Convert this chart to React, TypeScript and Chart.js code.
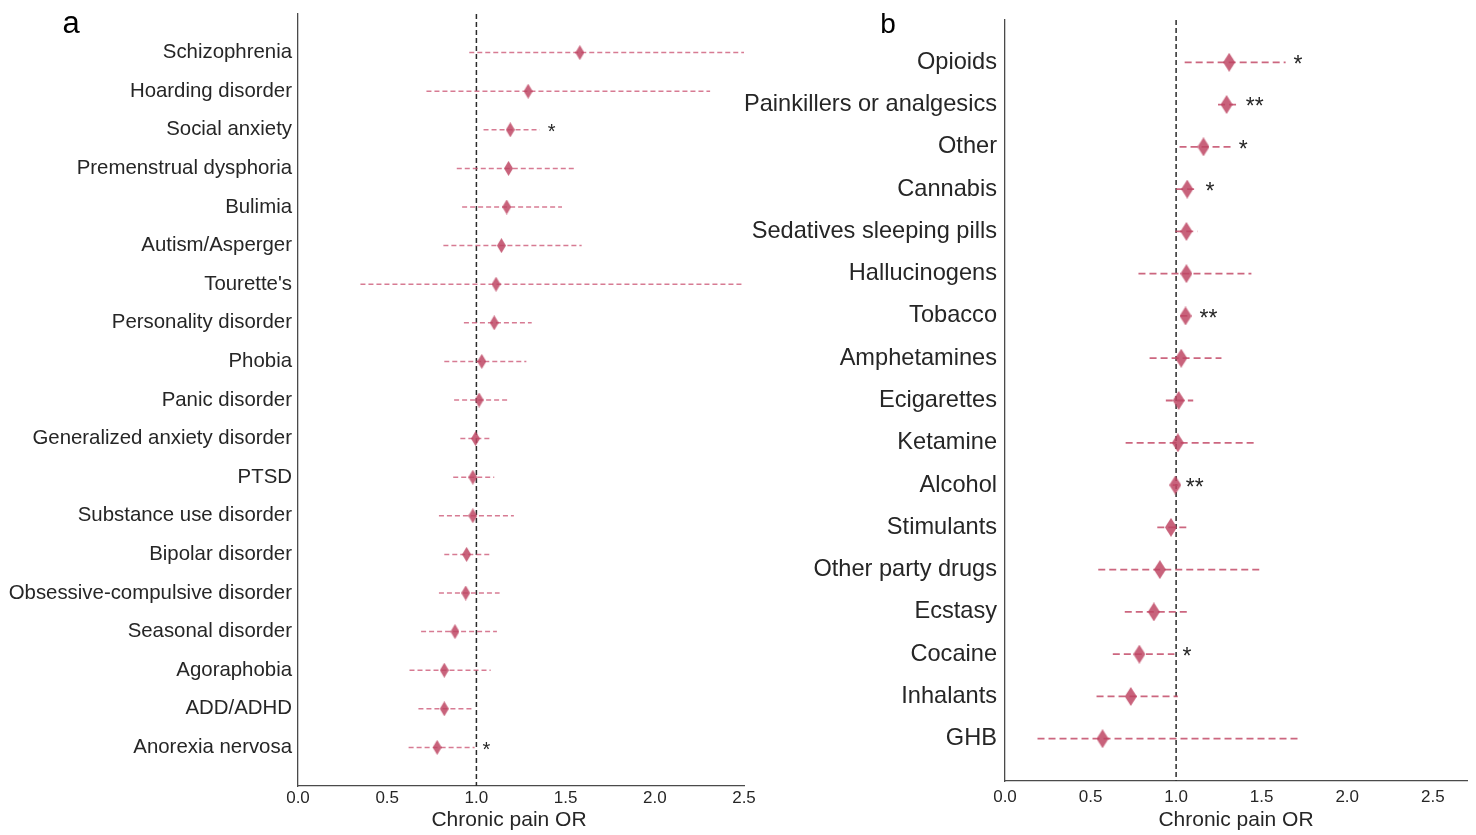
import React, { useEffect, useRef } from "react";
import { Chart, registerables } from "chart.js";
Chart.register(...registerables);

const FONT = "'Liberation Sans', Arial, Helvetica, sans-serif";
const TEXT = "#262626";
const AXIS = "#4a4a4a";

// ---------- Panel a: psychiatric disorders ----------
const disordersA = [
  "Schizophrenia",
  "Hoarding disorder",
  "Social anxiety",
  "Premenstrual dysphoria",
  "Bulimia",
  "Autism/Asperger",
  "Tourette's",
  "Personality disorder",
  "Phobia",
  "Panic disorder",
  "Generalized anxiety disorder",
  "PTSD",
  "Substance use disorder",
  "Bipolar disorder",
  "Obsessive-compulsive disorder",
  "Seasonal disorder",
  "Agoraphobia",
  "ADD/ADHD",
  "Anorexia nervosa",
];
const orA = [1.58, 1.29, 1.19, 1.18, 1.17, 1.14, 1.11, 1.1, 1.03, 1.015, 0.995, 0.98, 0.98, 0.945, 0.94, 0.88, 0.82, 0.82, 0.78];
const ciLowA = [0.96, 0.72, 1.04, 0.89, 0.92, 0.815, 0.35, 0.93, 0.82, 0.875, 0.91, 0.87, 0.79, 0.82, 0.79, 0.69, 0.625, 0.675, 0.62];
const ciHighA = [2.5, 2.31, 1.355, 1.55, 1.48, 1.59, 2.5, 1.31, 1.28, 1.18, 1.085, 1.1, 1.21, 1.08, 1.13, 1.115, 1.08, 0.985, 0.99];
const starsA = ["", "", "*", "", "", "", "", "", "", "", "", "", "", "", "", "", "", "", "*"];

// ---------- Panel b: substances ----------
const substancesB = [
  "Opioids",
  "Painkillers or analgesics",
  "Other",
  "Cannabis",
  "Sedatives sleeping pills",
  "Hallucinogens",
  "Tobacco",
  "Amphetamines",
  "Ecigarettes",
  "Ketamine",
  "Alcohol",
  "Stimulants",
  "Other party drugs",
  "Ecstasy",
  "Cocaine",
  "Inhalants",
  "GHB",
];
const orB = [1.31, 1.295, 1.16, 1.065, 1.06, 1.06, 1.055, 1.03, 1.015, 1.01, 0.995, 0.97, 0.905, 0.87, 0.785, 0.735, 0.57];
const ciLowB = [1.05, 1.245, 1.02, 1.0, 0.995, 0.78, 1.025, 0.845, 0.94, 0.705, 0.98, 0.89, 0.545, 0.7, 0.63, 0.535, 0.19];
const ciHighB = [1.64, 1.36, 1.32, 1.125, 1.125, 1.44, 1.09, 1.265, 1.1, 1.455, 1.01, 1.06, 1.495, 1.07, 0.99, 1.01, 1.71];
const starsB = ["*", "**", "*", "*", "", "", "**", "", "", "", "**", "", "", "", "*", "", ""];

const xTicks = [0, 0.5, 1, 1.5, 2, 2.5];
const refLine = 1;
const axisTitle = "Chronic pain OR";

type PanelProps = {
  labels: string[];
  or: number[];
  lo: number[];
  hi: number[];
  stars: string[];
  letter: string;
  left: number;
  width: number;
  xMax: number;
  yAxisWidth: number;
  xAxisHeight: number;
  padTop: number;
  padRight: number;
  labelSize: number;
  labelPad: number;
  tickSize: number;
  tickPad: number;
  diamondW: number;
  diamondH: number;
  barWidth: number;
  barDash: number[];
  barColor: string;
  starSize: number;
  titleX: number;
  letterX: number;
  letterSize: number;
};

function makeDiamond(w: number, h: number, color: string) {
  const c = document.createElement("canvas");
  c.width = w;
  c.height = h;
  const ctx = c.getContext("2d")!;
  ctx.fillStyle = color;
  ctx.beginPath();
  ctx.moveTo(w / 2, 0);
  ctx.lineTo(w, h / 2);
  ctx.lineTo(w / 2, h);
  ctx.lineTo(0, h / 2);
  ctx.closePath();
  ctx.fill();
  return c;
}

function Panel(p: PanelProps) {
  const ref = useRef<HTMLCanvasElement>(null);
  useEffect(() => {
    if (!ref.current) return;
    const n = p.labels.length;
    const diamond = makeDiamond(p.diamondW, p.diamondH, "rgba(190, 70, 100, 0.85)");
    const datasets: any[] = [];
    datasets.push({
      data: [
        { x: refLine, y: -1 },
        { x: refLine, y: n },
      ],
      showLine: true,
      borderColor: "#2b2b2b",
      borderWidth: 1.5,
      borderDash: [5, 3],
      pointRadius: 0,
      order: 3,
    });
    p.labels.forEach((_, i) => {
      datasets.push({
        data: [
          { x: p.lo[i], y: i },
          { x: p.hi[i], y: i },
        ],
        showLine: true,
        borderColor: p.barColor,
        borderWidth: p.barWidth,
        borderDash: p.barDash,
        pointRadius: 0,
        order: 2,
      });
    });
    datasets.push({
      data: p.or.map((v, i) => ({ x: v, y: i })),
      showLine: false,
      pointStyle: diamond,
      pointRadius: 8,
      order: 1,
    });

    const annot = {
      id: "annot" + p.letter,
      afterDatasetsDraw(chart: any) {
        const { ctx, scales } = chart;
        const xs = scales.x;
        const ys = scales.y;
        ctx.save();
        ctx.fillStyle = TEXT;
        ctx.font = `${p.starSize}px ${FONT}`;
        ctx.textAlign = "left";
        ctx.textBaseline = "alphabetic";
        p.stars.forEach((s, i) => {
          if (!s) return;
          ctx.fillText(s, xs.getPixelForValue(p.hi[i]) + 8, ys.getPixelForValue(i) + p.starSize * 0.43);
        });
        ctx.font = `21px ${FONT}`;
        ctx.textAlign = "center";
        ctx.textBaseline = "middle";
        ctx.fillText(axisTitle, p.titleX, 820);
        ctx.font = `${p.letterSize}px ${FONT}`;
        ctx.textBaseline = "alphabetic";
        ctx.fillStyle = "#000";
        ctx.fillText(p.letter, p.letterX, 33);
        ctx.restore();
      },
    };

    const chart = new Chart(ref.current, {
      type: "scatter",
      data: { datasets },
      options: {
        animation: false,
        responsive: false,
        events: [],
        layout: { padding: { top: p.padTop, right: p.padRight, left: 0, bottom: 0 } },
        plugins: { legend: { display: false }, tooltip: { enabled: false } },
        scales: {
          x: {
            type: "linear",
            min: 0,
            max: p.xMax,
            afterBuildTicks: (s: any) => {
              s.ticks = xTicks.map((v) => ({ value: v }));
            },
            afterFit: (s: any) => {
              s.height = p.xAxisHeight;
              s.paddingLeft = 0;
              s.paddingRight = 0;
            },
            ticks: {
              autoSkip: false,
              maxRotation: 0,
              padding: p.tickPad,
              color: TEXT,
              font: { size: p.tickSize, family: FONT },
              callback: (v: any) => Number(v).toFixed(1),
            },
            grid: { display: false, drawTicks: false },
            border: { display: true, color: AXIS, width: 1.3 },
          },
          y: {
            type: "linear",
            min: -1,
            max: n,
            reverse: true,
            afterBuildTicks: (s: any) => {
              s.ticks = p.labels.map((_, i) => ({ value: i }));
            },
            afterFit: (s: any) => {
              s.width = p.yAxisWidth;
              s.paddingTop = 0;
              s.paddingBottom = 0;
            },
            ticks: {
              autoSkip: false,
              padding: p.labelPad,
              color: TEXT,
              font: { size: p.labelSize, family: FONT },
              callback: (v: any) => p.labels[Math.round(Number(v))],
            },
            grid: { display: false, drawTicks: false },
            border: { display: true, color: AXIS, width: 1.3 },
          },
        },
      },
      plugins: [annot],
    } as any);
    return () => chart.destroy();
  }, []);
  return (
    <canvas
      ref={ref}
      width={p.width}
      height={835}
      style={{ position: "absolute", left: p.left, top: 0, width: p.width, height: 835 }}
    />
  );
}

export default function App() {
  return (
    <div style={{ position: "absolute", left: 0, top: 0, width: 1476, height: 835, background: "#fff", overflow: "hidden" }}>
      <Panel
        labels={disordersA}
        or={orA}
        lo={ciLowA}
        hi={ciHighA}
        stars={starsA}
        letter="a"
        left={0}
        width={760}
        xMax={2.5}
        yAxisWidth={298}
        xAxisHeight={49}
        padTop={14}
        padRight={16}
        labelSize={20.4}
        labelPad={6}
        tickSize={17}
        tickPad={2}
        diamondW={9}
        diamondH={15}
        barWidth={1.5}
        barDash={[5, 3]}
        barColor="rgba(205, 90, 120, 0.8)"
        starSize={20}
        titleX={509}
        letterX={71}
        letterSize={31}
      />
      <Panel
        labels={substancesB}
        or={orB}
        lo={ciLowB}
        hi={ciHighB}
        stars={starsB}
        letter="b"
        left={720}
        width={756}
        xMax={2.7}
        yAxisWidth={285}
        xAxisHeight={54}
        padTop={20}
        padRight={8}
        labelSize={23.6}
        labelPad={8}
        tickSize={17}
        tickPad={6}
        diamondW={12}
        diamondH={19}
        barWidth={1.8}
        barDash={[7, 4]}
        barColor="rgba(195, 75, 105, 0.85)"
        starSize={23}
        titleX={516}
        letterX={168}
        letterSize={28}
      />
    </div>
  );
}
